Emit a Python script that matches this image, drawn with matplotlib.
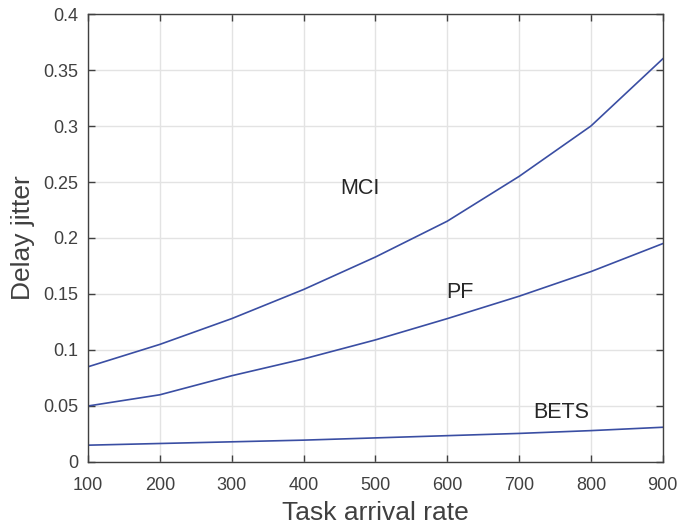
import numpy as np
import matplotlib.pyplot as plt

rate = [100, 200, 300, 400, 500, 600, 700, 800, 900]
mci = [0.085, 0.105, 0.128, 0.154, 0.183, 0.215, 0.255, 0.300, 0.360]
pf = [0.050, 0.060, 0.077, 0.092, 0.109, 0.128, 0.148, 0.170, 0.195]
bets = [0.015, 0.0165, 0.018, 0.0195, 0.0215, 0.0235, 0.0255, 0.028, 0.031]

plt.rcParams['font.family'] = ['Liberation Sans', 'DejaVu Sans']

fig = plt.figure(figsize=(6.77, 5.29), dpi=100)
ax = fig.add_axes([0.130, 0.1267, 0.849, 0.8468])

line_color = '#3a4ea3'
ax.plot(rate, mci, color=line_color, linewidth=1.2)
ax.plot(rate, pf, color=line_color, linewidth=1.2)
ax.plot(rate, bets, color=line_color, linewidth=1.2)

ax.text(478, 0.244, 'MCI', fontsize=15.5, ha='center', va='center', color='#262626')
ax.text(617, 0.151, 'PF', fontsize=15.5, ha='center', va='center', color='#262626')
ax.text(759, 0.0446, 'BETS', fontsize=15.5, ha='center', va='center', color='#262626')

ax.set_xlim(100, 900)
ax.set_ylim(0, 0.4)
ax.set_xticks(rate)
ax.set_yticks(np.arange(0, 0.41, 0.05))
ax.set_yticklabels(['0', '0.05', '0.1', '0.15', '0.2', '0.25', '0.3', '0.35', '0.4'])
ax.grid(True, color='#e3e3e3', linewidth=1.0)
ax.set_axisbelow(True)

ax.tick_params(direction='in', top=True, right=True, length=5, width=1.0,
               labelsize=13, colors='#404040', labelcolor='#404040')
ax.tick_params(axis='x', pad=11)
ax.tick_params(axis='y', pad=7)
for s in ax.spines.values():
    s.set_color('#404040')
    s.set_linewidth(1.0)

ax.set_xlabel('Task arrival rate', fontsize=19, color='#404040', labelpad=5)
ax.set_ylabel('Delay jitter', fontsize=19, color='#404040', labelpad=6)

fig.savefig('out.png', dpi=100)
